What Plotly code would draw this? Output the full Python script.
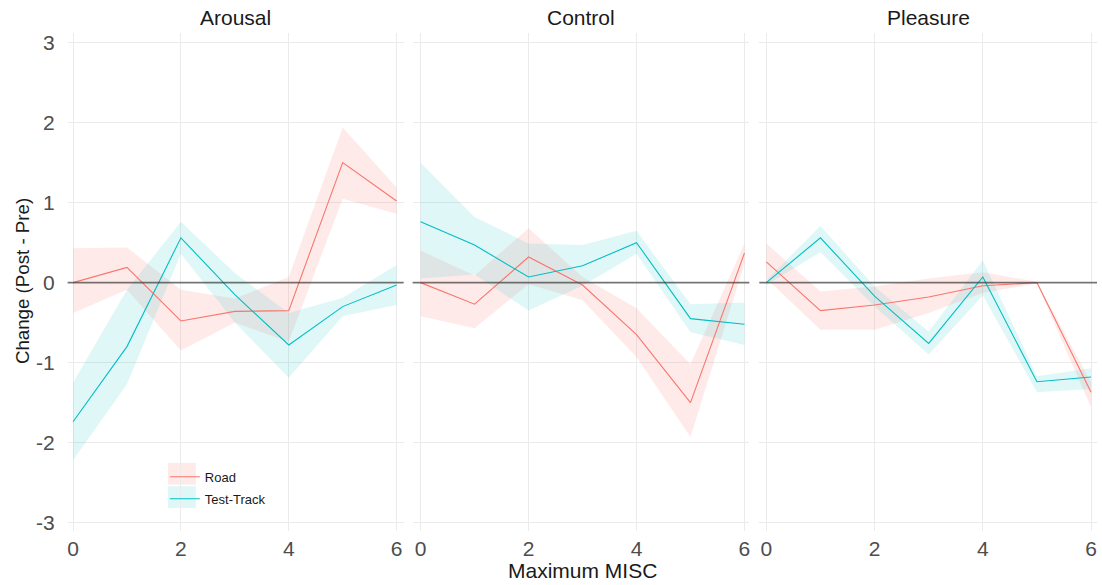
import plotly.graph_objects as go

x_vals = [0, 1, 2, 3, 4, 5, 6]
panels = ["Arousal", "Control", "Pleasure"]
series_names = ["Road", "Test-Track"]

# Arousal
arousal_road = [0.00, 0.19, -0.48, -0.36, -0.35, 1.50, 1.02]
arousal_road_hi = [0.43, 0.44, -0.09, -0.20, 0.07, 1.94, 1.19]
arousal_road_lo = [-0.38, -0.09, -0.85, -0.50, -0.74, 1.05, 0.86]
arousal_tt = [-1.74, -0.80, 0.56, -0.15, -0.78, -0.30, -0.03]
arousal_tt_hi = [-1.25, -0.09, 0.76, 0.12, -0.38, -0.19, 0.22]
arousal_tt_lo = [-2.22, -1.27, 0.36, -0.50, -1.19, -0.42, -0.28]

# Control
control_road = [0.00, -0.27, 0.32, -0.03, -0.65, -1.50, 0.37]
control_road_hi = [0.40, 0.09, 0.68, 0.07, -0.32, -1.02, 0.49]
control_road_lo = [-0.42, -0.57, -0.02, -0.22, -0.93, -1.93, 0.24]
control_tt = [0.76, 0.47, 0.07, 0.21, 0.50, -0.45, -0.52]
control_tt_hi = [1.50, 0.82, 0.49, 0.47, 0.65, -0.27, -0.25]
control_tt_lo = [0.05, 0.10, -0.35, -0.04, 0.36, -0.62, -0.78]

# Pleasure
pleasure_road = [0.26, -0.35, -0.28, -0.18, -0.04, 0.00, -1.37]
pleasure_road_hi = [0.49, -0.11, -0.05, 0.05, 0.13, 0.01, -1.25]
pleasure_road_lo = [0.05, -0.59, -0.59, -0.38, -0.13, -0.01, -1.56]
pleasure_tt = [0.00, 0.56, -0.17, -0.76, 0.07, -1.24, -1.18]
pleasure_tt_hi = [0.03, 0.71, -0.05, -0.61, 0.28, -1.17, -1.07]
pleasure_tt_lo = [-0.03, 0.38, -0.30, -0.90, -0.16, -1.37, -1.33]

x_ticks = [0, 2, 4, 6]
y_ticks = [-3, -2, -1, 0, 1, 2, 3]
y_tick_labels = ["-3", "-2", "-1", "0", "1", "2", "3"]

data = {
    "Arousal": [(arousal_road, arousal_road_hi, arousal_road_lo),
                (arousal_tt, arousal_tt_hi, arousal_tt_lo)],
    "Control": [(control_road, control_road_hi, control_road_lo),
                (control_tt, control_tt_hi, control_tt_lo)],
    "Pleasure": [(pleasure_road, pleasure_road_hi, pleasure_road_lo),
                 (pleasure_tt, pleasure_tt_hi, pleasure_tt_lo)],
}

line_colors = ["#F8766D", "#00BFC4"]
fill_colors = ["rgba(248,118,109,0.15)", "rgba(0,191,196,0.12)"]

W, H = 1102, 585
px_dom = [(67.7, 404), (413, 750), (760, 1098)]
x_ranges = [(-0.10, 6.13), (-0.148, 6.09), (-0.13, 6.11)]
y_top, y_bot = 31.7, 533
y_dom = [1 - y_bot / H, 1 - y_top / H]
y_range = [-3.11, 3.115]

ARIAL = "Liberation Sans, Arial, sans-serif"

fig = go.Figure()
layout = dict(
    width=W, height=H,
    margin=dict(l=0, r=0, t=0, b=0),
    paper_bgcolor="white", plot_bgcolor="white",
    font=dict(family=ARIAL, color="#4d4d4d"),
    showlegend=True,
)

shapes = []
annotations = []
for i, name in enumerate(panels):
    xa = "x" if i == 0 else f"x{i+1}"
    ya = "y" if i == 0 else f"y{i+1}"
    xkey = "xaxis" if i == 0 else f"xaxis{i+1}"
    ykey = "yaxis" if i == 0 else f"yaxis{i+1}"
    layout[xkey] = dict(
        domain=[px_dom[i][0] / W, px_dom[i][1] / W], anchor=ya,
        range=list(x_ranges[i]), tickvals=x_ticks, showgrid=True,
        gridcolor="#ebebeb", gridwidth=1, zeroline=False, showline=False,
        ticks="", ticklabelstandoff=3,
        tickfont=dict(size=21, color="#4d4d4d", family=ARIAL),
    )
    layout[ykey] = dict(
        domain=y_dom, anchor=xa, range=y_range, tickvals=y_ticks,
        ticktext=y_tick_labels,
        showgrid=True, gridcolor="#ebebeb", gridwidth=1, zeroline=False,
        showline=False, ticks="", showticklabels=(i == 0),
        ticklabelstandoff=12,
        tickfont=dict(size=21, color="#4d4d4d", family=ARIAL),
    )
    # ribbons
    for s in range(2):
        mean, hi, lo = data[name][s]
        fig.add_trace(go.Scatter(
            x=x_vals + x_vals[::-1], y=hi + lo[::-1], fill="toself",
            fillcolor=fill_colors[s], line=dict(width=0), mode="lines",
            hoverinfo="skip", showlegend=False, xaxis=xa, yaxis=ya))
    for s in range(2):
        mean, hi, lo = data[name][s]
        fig.add_trace(go.Scatter(
            x=x_vals, y=mean, mode="lines",
            line=dict(color=line_colors[s], width=1.1),
            name=series_names[s], legendgroup=series_names[s],
            showlegend=(i == 0), xaxis=xa, yaxis=ya))
    shapes.append(dict(type="line", xref=f"{xa} domain", yref=ya,
                       x0=0, x1=1, y0=0, y1=0,
                       line=dict(color="rgba(50,50,50,0.65)", width=1.6),
                       layer="above"))
    annotations.append(dict(text=name, xref="paper", yref="paper",
                            x=(px_dom[i][0] + px_dom[i][1]) / 2 / W,
                            y=1 - 16 / H, showarrow=False,
                            font=dict(size=21, color="#1a1a1a", family=ARIAL),
                            xanchor="center", yanchor="middle"))

annotations.append(dict(text="Maximum MISC", xref="paper", yref="paper",
                        x=(px_dom[0][0] + px_dom[2][1]) / 2 / W, y=1 - 572 / H,
                        showarrow=False,
                        font=dict(size=21, color="#1a1a1a", family=ARIAL),
                        xanchor="center", yanchor="middle"))
annotations.append(dict(text="Change (Post - Pre)", xref="paper", yref="paper",
                        x=22 / W, y=1 - 281 / H, textangle=-90,
                        showarrow=False,
                        font=dict(size=18.7, color="#1a1a1a", family=ARIAL),
                        xanchor="center", yanchor="middle"))

# legend key backgrounds
for k, fc in enumerate(fill_colors):
    yc = 475 + k * 23.5
    shapes.append(dict(type="rect", xref="paper", yref="paper",
                       x0=168 / W, x1=196 / W,
                       y0=1 - (yc + 11) / H, y1=1 - (yc - 11) / H,
                       fillcolor=fc, line=dict(width=0), layer="below"))

layout["shapes"] = shapes
layout["annotations"] = annotations
layout["legend"] = dict(x=165 / W, y=1 - 463 / H, xanchor="left", yanchor="top",
                        bgcolor="rgba(0,0,0,0)",
                        font=dict(size=13, color="#1a1a1a", family=ARIAL),
                        tracegroupgap=2, itemwidth=30)
fig.update_layout(**layout)
fig.write_html("out.html")
